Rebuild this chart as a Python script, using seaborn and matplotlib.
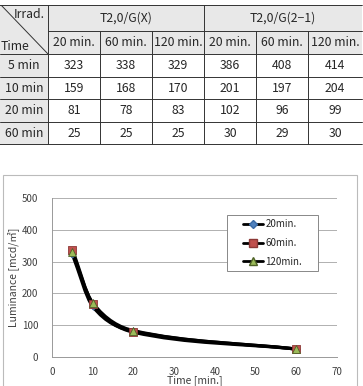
import numpy as np
import pandas as pd
import seaborn as sns
import matplotlib.pyplot as plt
from matplotlib.path import Path
from matplotlib.patches import PathPatch, Rectangle
from matplotlib.lines import Line2D

sns.set_style("white")
plt.rcParams['font.family'] = ['Noto Sans CJK KR', 'DejaVu Sans']

##############################################################################

times = [5, 10, 20, 60]
row_labels = ["5 min", "10 min", "20 min", "60 min"]
groups = ["T2,0/G(X)", "T2,0/G(2\u22121)"]
irrad = ["20 min.", "60 min.", "120 min."]

gx_20 = [323, 159, 81, 25]
gx_60 = [338, 168, 78, 25]
gx_120 = [329, 170, 83, 25]
g21_20 = [386, 201, 102, 30]
g21_60 = [408, 197, 96, 29]
g21_120 = [414, 204, 99, 30]

legend_names = ["20min.", "60min.", "120min."]

##############################################################################

fig = plt.figure(figsize=(3.63, 3.86), dpi=100)

# ---- table ----
axt = fig.add_axes([0, 1 - 145 / 386, 1, 140 / 386])
axt.set_xlim(0, 363)
axt.set_ylim(145, 5)
axt.axis("off")

col_edges = [0, 48, 100, 152, 204, 256, 308, 362]
row_edges = [5, 31, 54, 77, 99, 122, 145]
gray = "#e8e8e8"
tc = "#262626"
fs = 8.8

cells = np.array([gx_20, gx_60, gx_120, g21_20, g21_60, g21_120]).T

# gray backgrounds: header rows and first column
axt.add_patch(Rectangle((col_edges[0], row_edges[0]), col_edges[-1] - col_edges[0],
                        row_edges[2] - row_edges[0], color=gray, lw=0))
axt.add_patch(Rectangle((col_edges[0], row_edges[2]), col_edges[1] - col_edges[0],
                        row_edges[-1] - row_edges[2], color=gray, lw=0))

# lines
for i, y in enumerate(row_edges):
    lw = 1.4 if i in (0, len(row_edges) - 1) else 0.7
    x0 = col_edges[1] if i == 1 else col_edges[0]
    axt.plot([x0, col_edges[-1]], [y, y], color="#333333", lw=lw)
for j, x in enumerate(col_edges[:-1]):
    if j == 0:
        continue
    y0 = row_edges[1] if j not in (1, 4) else row_edges[0]
    axt.plot([x, x], [y0, row_edges[-1]], color="#333333", lw=0.7)
axt.plot([col_edges[0] + 1, col_edges[1]], [row_edges[0], row_edges[2]], color="#333333", lw=0.7)

axt.text(col_edges[1] - 3, row_edges[0] + 10, "Irrad.", ha="right", va="center", fontsize=fs, color=tc)
axt.text(col_edges[0] + 1, row_edges[2] - 8, "Time", ha="left", va="center", fontsize=fs, color=tc)

for g, name in enumerate(groups):
    xa = col_edges[1 + 3 * g]
    xb = col_edges[4 + 3 * g]
    axt.text((xa + xb) / 2, (row_edges[0] + row_edges[1]) / 2, name,
             ha="center", va="center", fontsize=fs, color=tc)
    for k, lab in enumerate(irrad):
        c = 1 + 3 * g + k
        axt.text((col_edges[c] + col_edges[c + 1]) / 2, (row_edges[1] + row_edges[2]) / 2,
                 lab, ha="center", va="center", fontsize=fs, color=tc)

for r, lab in enumerate(row_labels):
    yc = (row_edges[r + 2] + row_edges[r + 3]) / 2
    axt.text((col_edges[0] + col_edges[1]) / 2, yc, lab, ha="center", va="center",
             fontsize=fs, color=tc)
    for c in range(cells.shape[1]):
        axt.text((col_edges[c + 1] + col_edges[c + 2]) / 2, yc, str(cells[r, c]),
                 ha="center", va="center", fontsize=fs, color=tc)

# ---- chart ----
fig.patches.append(Rectangle((3 / 363, -0.01), 354 / 363, 1 - 175 / 386 + 0.01,
                             transform=fig.transFigure, fill=False,
                             edgecolor="#bbbbbb", lw=0.8))

ax = fig.add_axes([52 / 363, 1 - 357 / 386, 285 / 363, 159 / 386])


def smooth_path(xs, ys):
    # smoothed line like excel: hermite segments drawn as cubic beziers
    x = np.asarray(xs, float)
    y = np.asarray(ys, float)
    n = len(x)
    m = np.empty(n)
    m[0] = (y[1] - y[0]) / (x[1] - x[0])
    m[-1] = (y[-1] - y[-2]) / (x[-1] - x[-2])
    for i in range(1, n - 1):
        m[i] = (y[i + 1] - y[i - 1]) / (x[i + 1] - x[i - 1])
    verts = [(x[0], y[0])]
    codes = [Path.MOVETO]
    for i in range(n - 1):
        h = (x[i + 1] - x[i]) / 3
        verts += [(x[i] + h, y[i] + m[i] * h), (x[i + 1] - h, y[i + 1] - m[i + 1] * h),
                  (x[i + 1], y[i + 1])]
        codes += [Path.CURVE4] * 3
    return Path(verts, codes)


series = [
    (gx_20, "D", "#4f81bd", "#3a6aa5", 14),
    (gx_60, "s", "#c0504d", "#8c3836", 32),
    (gx_120, "^", "#9bbb59", "#4f6228", 32),
]

for vals, *_ in series:
    ax.add_patch(PathPatch(smooth_path(times, vals), fill=False, edgecolor="black",
                           lw=2.3, zorder=2, capstyle="round", joinstyle="round"))

for vals, mk, fc, ec, s in series:
    df = pd.DataFrame({"t": times, "v": vals})
    sns.scatterplot(data=df, x="t", y="v", marker=mk, color=fc, edgecolor=ec,
                    linewidth=0.6, s=s, zorder=3, ax=ax)

ax.set_xlim(0, 70)
ax.set_ylim(0, 500)
ax.set_xticks(range(0, 71, 10))
ax.set_yticks(range(0, 501, 100))
ax.grid(axis="y", color="#b0b0b0", lw=0.7)
ax.set_axisbelow(True)
for sp in ["top", "right"]:
    ax.spines[sp].set_visible(False)
for sp in ["left", "bottom"]:
    ax.spines[sp].set_color("#999999")
    ax.spines[sp].set_linewidth(0.7)
ax.tick_params(axis="x", direction="out", length=3, color="#999999", labelsize=7,
               labelcolor="#404040", pad=4)
ax.tick_params(axis="y", length=0, labelsize=7, labelcolor="#404040", pad=10)
ax.set_xlabel("Time [min.]", fontsize=7.5, color="#404040", labelpad=-1)
ax.set_ylabel("Luminance [mcd/\u33a1]", fontsize=7.5, color="#404040", labelpad=2)

# legend with a plain box
ax.add_patch(Rectangle((0.614, 0.541), 0.319, 0.352, transform=ax.transAxes,
                       facecolor="white", edgecolor="#888888", lw=0.7, zorder=4))
handles = [Line2D([0], [0], color="black", lw=2, marker=mk, markerfacecolor=fc,
                  markeredgecolor=ec, markersize=np.sqrt(s))
           for _, mk, fc, ec, s in series]
leg = ax.legend(handles, legend_names, loc="center left", bbox_to_anchor=(0.670, 0.717),
                fontsize=7, frameon=False, handlelength=2.1, handletextpad=0.2,
                labelspacing=0.9, borderpad=0, borderaxespad=0)
leg.set_zorder(5)

fig.savefig("out.png", dpi=100)
